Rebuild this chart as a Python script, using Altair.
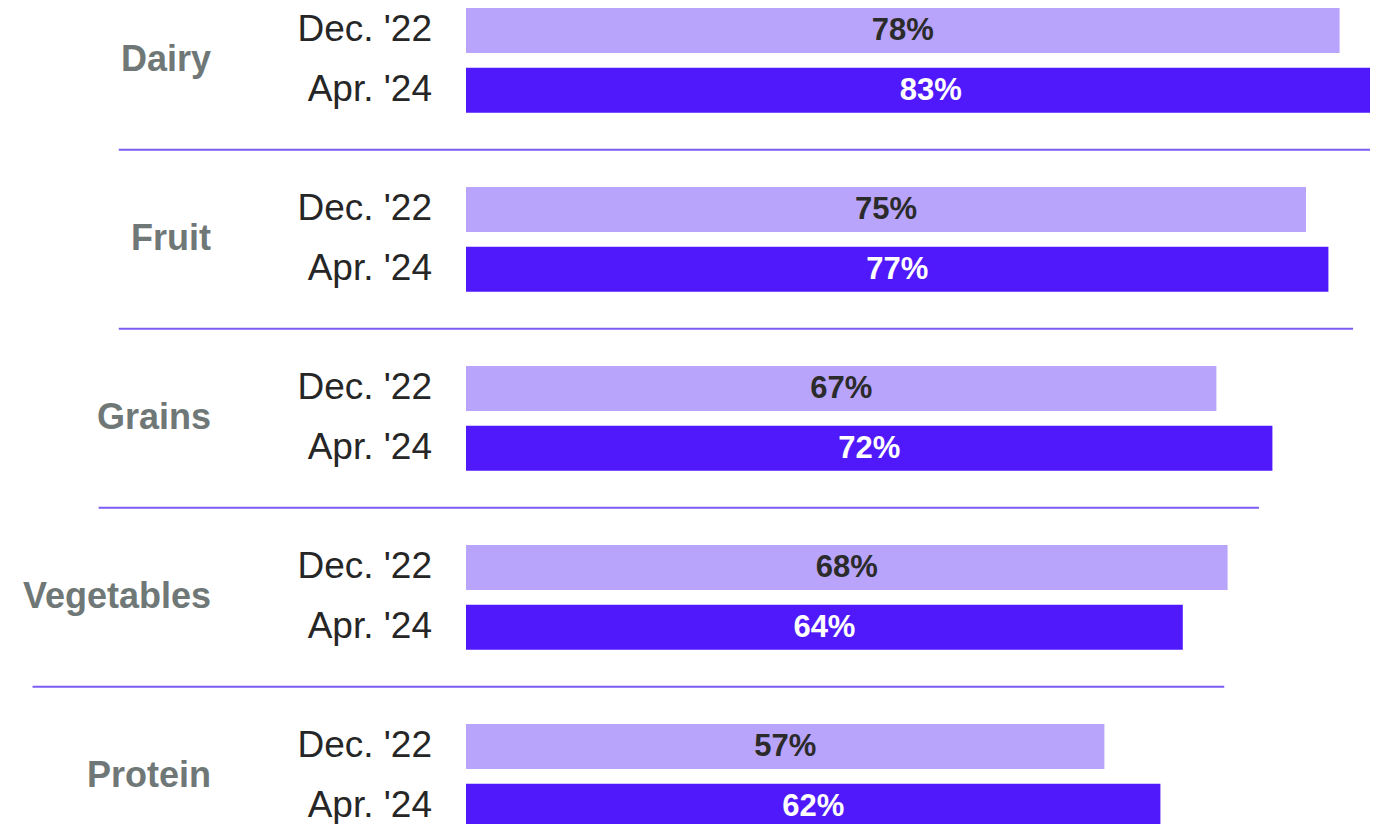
import altair as alt
import pandas as pd

# ---- data ----
categories = ["Dairy", "Fruit", "Grains", "Vegetables", "Protein"]
periods = ["Dec. '22", "Apr. '24"]
dec_22 = [78, 75, 67, 68, 57]
apr_24 = [83, 77, 72, 64, 62]

# separator lines drawn under the first four groups (extent in % units of the x scale)
sep_groups = ["Dairy", "Fruit", "Grains", "Vegetables"]
sep_start = [-31.0, -31.0, -32.8, -38.7]
sep_end = [82.0, 79.2, 70.8, 67.7]

# ---- tables built from the lists ----
rows = []
for gi, cat in enumerate(categories):
    for pi, (per, vals) in enumerate(zip(periods, [dec_22, apr_24])):
        rows.append({
            "category": cat,
            "period": per,
            "value": vals[gi],
            "row": 3 * gi + pi,
            "label": f"{vals[gi]}%",
        })
bars_df = pd.DataFrame(rows)
cat_df = pd.DataFrame({"category": categories,
                       "row": [3 * i + 0.5 for i in range(len(categories))]})
sep_df = pd.DataFrame({"group": sep_groups, "start": sep_start, "end": sep_end,
                       "row": [3 * i + 2 for i in range(len(sep_groups))]})

LIGHT = "#b9a4fb"
DARK = "#5019fb"
FONT = "Liberation Sans"

xscale = alt.Scale(domain=[0, 80.714], nice=False, zero=False)
yscale = alt.Scale(domain=[-0.377, 13.299], nice=False, zero=False, reverse=True)

base = alt.Chart(bars_df)

bars = base.transform_calculate(
    y0="datum.row - 0.377", y1="datum.row + 0.377", zero="0"
).mark_bar().encode(
    x=alt.X("zero:Q", scale=xscale, axis=None),
    x2=alt.X2("value:Q"),
    y=alt.Y("y0:Q", scale=yscale, axis=None),
    y2=alt.Y2("y1:Q"),
    color=alt.Color("period:N", scale=alt.Scale(domain=periods, range=[LIGHT, DARK]), legend=None),
)

values = base.transform_calculate(mid="datum.value / 2").mark_text(
    font=FONT, fontSize=31, fontWeight="bold", align="center", baseline="middle", dy=1
).encode(
    x=alt.X("mid:Q", scale=xscale, axis=None),
    y=alt.Y("row:Q", scale=yscale, axis=None),
    text="label:N",
    color=alt.condition("indexof(datum.period, 'Apr') == 0", alt.value("#ffffff"), alt.value("#2b2b2b")),
)

period_labels = base.mark_text(
    font=FONT, fontSize=37, align="right", baseline="middle", color="#262626"
).encode(
    x=alt.value(-34),
    y=alt.Y("row:Q", scale=yscale, axis=None),
    text="period:N",
)

cat_labels = alt.Chart(cat_df).mark_text(
    font=FONT, fontSize=36, fontWeight="bold", align="right",
    baseline="middle", color="#6f7877"
).encode(
    x=alt.value(-255),
    y=alt.Y("row:Q", scale=yscale, axis=None),
    text="category:N",
)

seps = alt.Chart(sep_df).mark_rule(color="#7b5cf3", strokeWidth=2).encode(
    x=alt.X("start:Q", scale=xscale, axis=None),
    x2=alt.X2("end:Q"),
    y=alt.Y("row:Q", scale=yscale, axis=None),
)

chart = alt.layer(seps, bars, values, period_labels, cat_labels).properties(
    width=904,
    height=816,
    autosize=alt.AutoSizeParams(type="none"),
    padding={"left": 458, "top": 0, "right": 0, "bottom": 0},
    background="#ffffff",
).configure_view(stroke=None)

chart.save("out.html", embed_options={"renderer": "svg", "actions": False})
